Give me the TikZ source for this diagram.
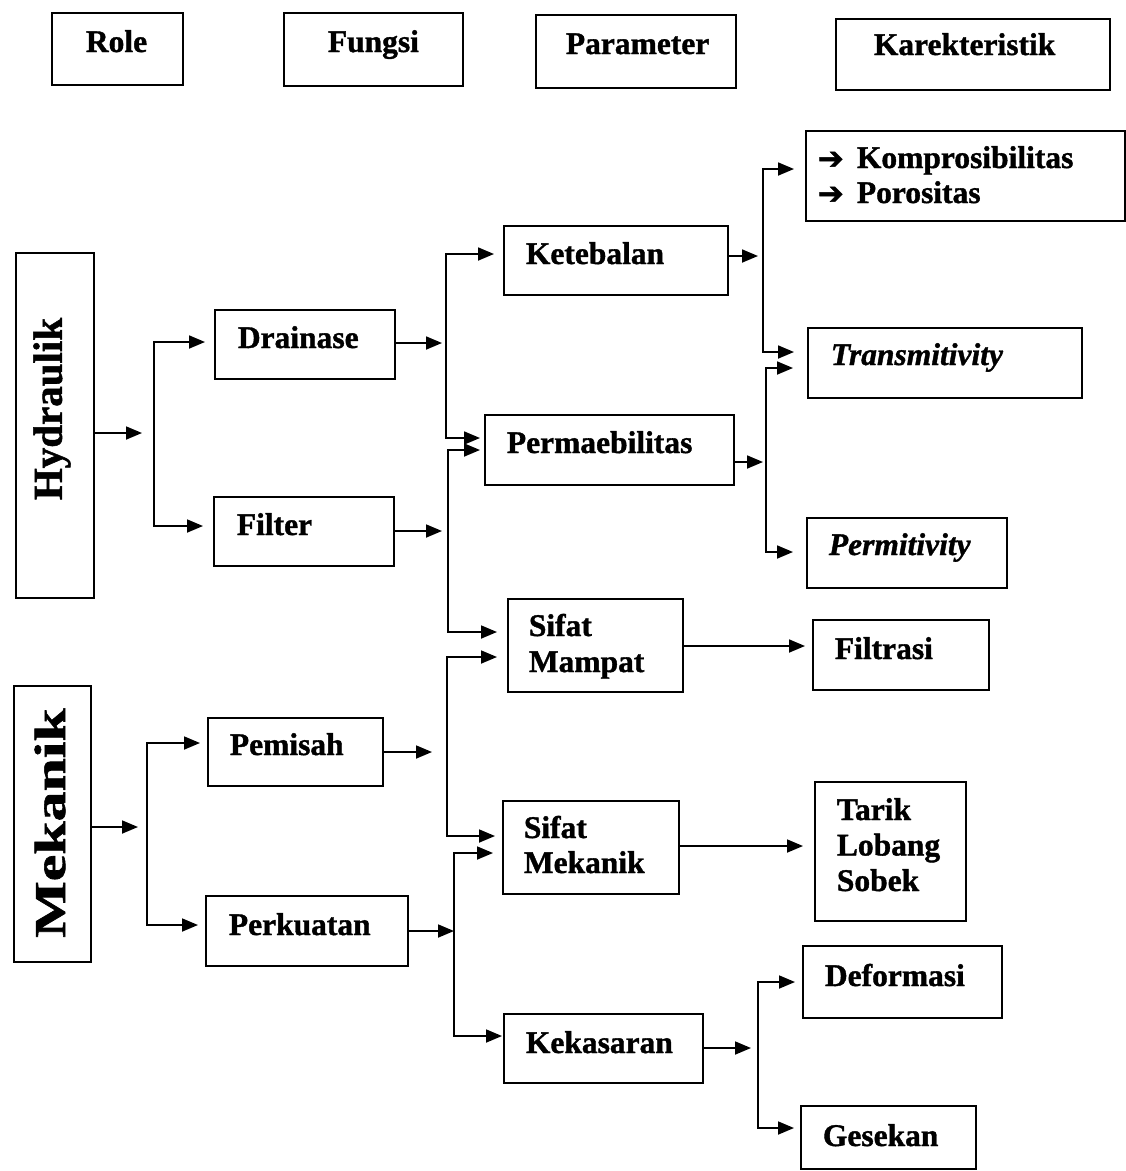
\documentclass[tikz,border=0pt]{standalone}
\usepackage{fontspec}
\setmainfont{Liberation Serif}[BoldFeatures={FakeBold=1.2},BoldItalicFeatures={FakeBold=1.2}]
\newfontfamily\dejavu{DejaVu Sans}[FakeBold=1.5]
\usepackage{graphicx}
\usetikzlibrary{arrows.meta}
\newcommand\mkbox[5]{\node[box,minimum width=#4pt-#2pt,minimum height=#5pt-#3pt] (#1) at (#2,#3) {};}
\begin{document}
\begin{tikzpicture}[x=1pt,y=-1pt,line width=1.8pt,
  box/.style={draw,line width=1.8pt,inner sep=0pt,anchor=north west},
  lbl/.style={anchor=base west,inner sep=0pt,font=\fontsize{31.5}{35}\selectfont\bfseries},
  ilbl/.style={lbl,font=\fontsize{31.5}{35}\selectfont\bfseries\itshape},
  arr/.style={-{Triangle[length=16pt,width=13pt]}},
  arrtwo/.style={{Triangle[length=16pt,width=13pt]}-{Triangle[length=16pt,width=13pt]}},
  bullet/.style={anchor=base west,inner sep=0pt,font=\dejavu\fontsize{31}{35}\selectfont}]
\useasboundingbox (0,0) rectangle (1126,1171);
% header boxes
\mkbox{role}{51}{12}{182}{84}
\node[lbl] (roleT) at (85,52) {Role};
\mkbox{fungsi}{283}{12}{462}{85}
\node[lbl] (fungsiT) at (327,52) {Fungsi};
\mkbox{param}{535}{14}{735}{87}
\node[lbl] (paramT) at (565,54) {Parameter};
\mkbox{karak}{835}{18}{1109}{89}
\node[lbl] (karakT) at (873,55) {Karekteristik};
% role boxes
\mkbox{hyd}{15}{252}{93}{597}
\node[rotate=90,inner sep=0pt,font=\fontsize{41}{41}\selectfont\bfseries] (hydT) at (52,409) {Hydraulik};
\mkbox{mek}{13}{685}{90}{961}
\node[rotate=90,inner sep=0pt,font=\fontsize{44}{44}\selectfont\bfseries] (mekT) at (50,823) {\scalebox{1.36}[1]{Mekanik}};
% fungsi boxes
\mkbox{drain}{214}{309}{394}{378}
\node[lbl] (drainT) at (237,348) {Drainase};
\mkbox{filter}{213}{496}{393}{565}
\node[lbl] (filterT) at (236,535) {Filter};
\mkbox{pemisah}{207}{717}{382}{785}
\node[lbl] (pemisahT) at (229,755) {Pemisah};
\mkbox{perkuatan}{205}{895}{407}{965}
\node[lbl] (perkuatanT) at (228,935) {Perkuatan};
% parameter boxes
\mkbox{keteb}{503}{225}{727}{294}
\node[lbl] (ketebT) at (525,264) {Ketebalan};
\mkbox{perm}{484}{414}{733}{484}
\node[lbl] (permT) at (506,453) {Permaebilitas};
\mkbox{sm}{507}{598}{682}{691}
\node[lbl] (smA) at (528,636) {Sifat};
\node[lbl] (smB) at (528,672) {Mampat};
\mkbox{smk}{502}{800}{678}{893}
\node[lbl] (smkA) at (523,838) {Sifat};
\node[lbl] (smkB) at (523,873) {Mekanik};
\mkbox{kek}{503}{1013}{702}{1082}
\node[lbl] (kekT) at (525,1053) {Kekasaran};
% karakteristik boxes
\mkbox{kompro}{805}{130}{1124}{220}
\node[bullet] (b1) at (817,169) {➔};
\node[lbl] (komproA) at (856,168) {Komprosibilitas};
\node[bullet] (b2) at (817,204) {➔};
\node[lbl] (komproB) at (856,203) {Porositas};
\mkbox{trans}{807}{327}{1081}{397}
\node[ilbl] (transT) at (830,365) {Transmitivity};
\mkbox{permit}{806}{517}{1006}{587}
\node[ilbl] (permitT) at (828,555) {Permitivity};
\mkbox{filtrasi}{812}{619}{988}{689}
\node[lbl] (filtrasiT) at (834,659) {Filtrasi};
\mkbox{tarik}{814}{781}{965}{920}
\node[lbl] (tarikA) at (836,820) {Tarik};
\node[lbl] (tarikB) at (836,855.5) {Lobang};
\node[lbl] (tarikC) at (836,891) {Sobek};
\mkbox{deform}{802}{945}{1001}{1017}
\node[lbl] (deformT) at (824,986) {Deformasi};
\mkbox{gesek}{800}{1105}{975}{1168}
\node[lbl] (gesekT) at (822,1146) {Gesekan};
% junction coordinates
\coordinate (hydJ) at (142,433);
\coordinate (drainJ) at (442,343);
\coordinate (filterJ) at (442,531);
\coordinate (pemisahJ) at (432,752);
\coordinate (perkJ) at (454,931);
\coordinate (ketebJ) at (758,256);
\coordinate (permJ) at (763,462);
\coordinate (kekJ) at (751,1048);
\coordinate (mekJ) at (138,827);
% connectors from boxes to junctions
\draw[arr] (hyd.east |- hydJ) -- (hydJ);
\draw[arr] (drain.east |- drainJ) -- (drainJ);
\draw[arr] (filter.east |- filterJ) -- (filterJ);
\draw[arr] (pemisah.east |- pemisahJ) -- (pemisahJ);
\draw[arr] (perkuatan.east |- perkJ) -- (perkJ);
\draw[arr] (keteb.east |- ketebJ) -- (ketebJ);
\draw[arr] (perm.east |- permJ) -- (permJ);
\draw[arr] (sm.east |- 0,646) -- ([xshift=-7pt]filtrasi.west |- 0,646);
\draw[arr] (smk.east |- 0,846) -- ([xshift=-11pt]tarik.west |- 0,846);
\draw[arr] (kek.east |- kekJ) -- (kekJ);
\draw[arr] (mek.east |- mekJ) -- (mekJ);
% distribution spines
\draw[arrtwo] ([xshift=-9pt]drain.west |- 0,342) -- (154,342) -- (154,526) -- ([xshift=-10pt]filter.west |- 0,526);
\draw[arrtwo] ([xshift=-7pt]pemisah.west |- 0,743) -- (147,743) -- (147,925) -- ([xshift=-7pt]perkuatan.west |- 0,925);
\draw[arrtwo] ([xshift=-9pt]keteb.west |- 0,254) -- (446,254) -- (446,438) -- ([xshift=-4pt]perm.west |- 0,438);
\draw[arrtwo] ([xshift=-4pt]perm.west |- 0,450) -- (448,450) -- (448,632) -- ([xshift=-10pt]sm.west |- 0,632);
\draw[arrtwo] ([xshift=-10pt]sm.west |- 0,657) -- (447,657) -- (447,836) -- ([xshift=-7pt]smk.west |- 0,836);
\draw[arrtwo] ([xshift=-9pt]smk.west |- 0,853) -- (454,853) -- (454,1036) -- ([xshift=-1pt]kek.west |- 0,1036);
\draw[arrtwo] ([xshift=-11pt]kompro.west |- 0,169) -- (763,169) -- (763,352) -- ([xshift=-13pt]trans.west |- 0,352);
\draw[arrtwo] ([xshift=-14pt]trans.west |- 0,368) -- (766,368) -- (766,552) -- ([xshift=-13pt]permit.west |- 0,552);
\draw[arrtwo] ([xshift=-7pt]deform.west |- 0,982) -- (758,982) -- (758,1128) -- ([xshift=-6pt]gesek.west |- 0,1128);
\end{tikzpicture}
\end{document}
